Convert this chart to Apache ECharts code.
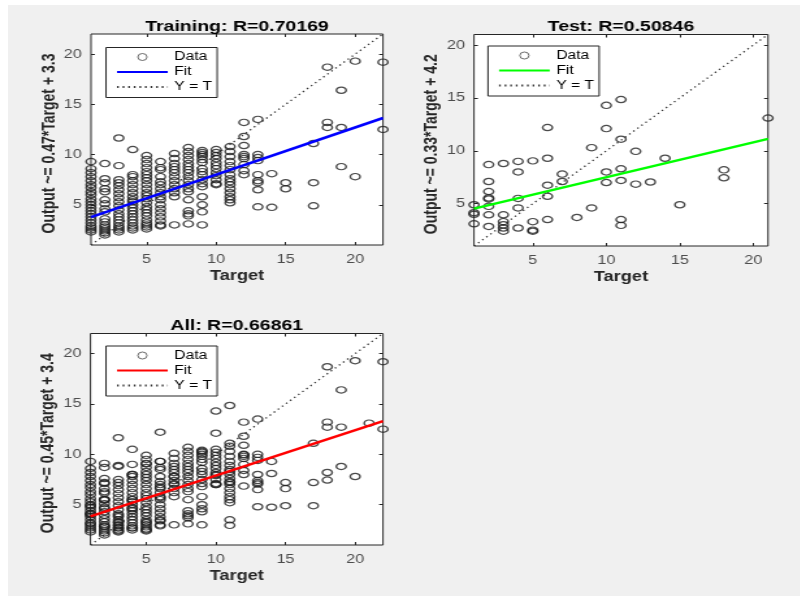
<!DOCTYPE html>
<html>
<head>
<meta charset="utf-8">
<script src="https://cdn.jsdelivr.net/npm/echarts@6/dist/echarts.min.js"></script>
<style>
    html,body{margin:0;padding:0;background:#fff;overflow:hidden}
    #fig{position:absolute;left:8px;top:5px;width:792px;height:591px;background:#f0f0f0}
    /* the reference figure is stretched sideways, so draw narrow and stretch */
    #main{position:absolute;left:0;top:0;width:616px;height:597px;transform:scaleX(1.3);transform-origin:0 0}
</style>
</head>
<body>
<div id="fig"></div>
<div id="main"></div>
<script>
// training set: outputs for each target value
const trainTargets = [1,2,3,4,5,6,7,8,9,10,11,12,13,14,15,17,18,19,20,22]
const trainOutputs = [
    [9.3,8.6,8.2,7.8,7.4,7.0,6.7,6.3,6.0,5.6,5.3,5.0,4.7,4.4,4.1,3.8,3.5,3.2,2.9,2.7,2.5,2.3],
    [9.1,7.6,7.2,6.6,6.3,5.5,5.1,4.6,4.3,3.6,3.3,3.0,2.8,2.6,2.4,2.2,2.0],
    [11.65,8.9,7.5,7.2,6.9,6.5,6.1,5.7,5.3,4.9,4.5,4.1,3.8,3.5,3.2,2.9,2.7,2.5,2.3],
    [10.5,8.0,7.8,7.4,7.0,6.6,6.2,5.8,5.5,5.3,5.0,4.7,4.4,4.1,3.8,3.5,3.2,2.9,2.7,2.5],
    [9.9,9.5,9.1,8.7,8.3,8.0,7.7,7.4,7.0,6.6,6.2,5.9,5.6,5.2,4.8,4.5,4.2,3.9,3.5,3.2,3.0,2.8,2.6],
    [9.3,8.7,8.5,7.8,7.3,7.0,6.6,6.2,5.8,5.5,5.0,4.6,4.2,3.8,3.4,3.0,2.9],
    [10.1,9.6,9.1,8.8,8.5,8.2,7.8,7.4,7.0,6.6,6.2,5.8,3.0],
    [10.7,10.3,9.9,9.5,9.1,8.8,8.5,8.2,7.8,7.4,7.0,6.6,6.3,5.5,4.4,4.1,3.9,3.1],
    [10.4,10.2,10.0,9.8,9.5,9.2,8.6,8.3,8.0,7.5,7.1,6.8,5.8,5.0,4.3,3.0],
    [10.5,10.2,9.9,9.6,9.2,8.9,8.6,8.2,7.9,7.5,7.1,7.0],
    [10.8,10.3,9.8,9.3,8.9,8.5,8.0,7.6,7.3,7.0,6.6,6.2,5.8,5.5,5.2],
    [13.2,11.8,10.9,10.0,9.8,9.6,9.0,8.4,8.0],
    [13.5,10.0,9.7,9.4,8.0,7.4,7.2,6.5,4.8],
    [8.1,4.75],
    [7.2,6.6],
    [11.1,7.2,4.9],
    [18.7,13.2,12.7],
    [16.4,12.7,8.8],
    [19.3,7.8],
    [19.2,12.5]
]
// test set
const testTargets = [1,2,3,4,5,6,7,8,9,10,11,12,13,14,15,18,21]
const testOutputs = [
    [4.9,4.15,4.0,3.1],
    [8.7,7.1,6.15,5.55,5.45,4.75,3.95,2.85],
    [8.8,3.95,3.3,3.0,2.7,2.4],
    [9.0,8.0,5.5,4.6,2.7],
    [9.05,3.3,2.5,2.4],
    [12.2,9.3,6.75,5.7,3.5],
    [7.8,7.1],
    [3.7],
    [10.3,4.6],
    [14.3,12.1,8.0,7.0],
    [14.85,11.1,8.3,7.2,3.5,2.95],
    [9.95,6.85],
    [7.05],
    [9.3],
    [4.9],
    [8.2,7.45],
    [13.1]
]
// fit: [slope, intercept], R value, axis limits
const trainFit = [0.47,3.3]
const testFit = [0.33,4.2]
const allFit = [0.45,3.4]
const rValues = ['0.70169','0.50846','0.66861']
const limits = [[1,22],[1,21],[1,22]]
const tickValues = [5,10,15,20]

const SX = 1.3
const FONT = "'Liberation Sans', Arial, Helvetica, sans-serif"

function toPoints(targets,outputs){
    let pts=[]
    targets.forEach((t,i)=>{
        outputs[i].forEach(o=>pts.push([t,o]))
    })
    return pts
}
const trainPoints = toPoints(trainTargets,trainOutputs)
const testPoints = toPoints(testTargets,testOutputs)
const allPoints = trainPoints.concat(testPoints)

// boxes in picture pixels: [left, top, right, bottom], legend corner
const panels = [
    {key:'train',title:'Training',points:trainPoints,fit:trainFit,color:'#0000ff',box:[91,34,383,245],legend:[106,47.5]},
    {key:'test',title:'Test',points:testPoints,fit:testFit,color:'#00ff00',box:[474,34.5,768,246],legend:[488,46]},
    {key:'all',title:'All',points:allPoints,fit:allFit,color:'#ff0000',box:[90.5,333.5,383,545],legend:[106,346]},
]

let grid=[],xAxis=[],yAxis=[],series=[],legend=[],title=[]
panels.forEach((p,i)=>{
    let [x0,y0,x1,y1] = p.box
    let [lo,hi] = limits[i]
    let [a,b] = p.fit
    grid.push({
        left:x0/SX, top:y0, width:(x1-x0)/SX, height:y1-y0,
        show:true, backgroundColor:'#fff', borderColor:'#262626', borderWidth:1,
        outerBoundsMode:'none'
    })
    title.push({
        text:p.title+': R='+rValues[i],
        left:(x0+x1)/2/SX, top:y0-15, textAlign:'center', padding:0,
        textStyle:{fontFamily:FONT,fontSize:15,fontWeight:'bold',color:'#000'}
    })
    let tick = {show:true,inside:true,length:3,customValues:tickValues,lineStyle:{color:'#262626'}}
    let label = {customValues:tickValues,color:'#4d4d4d',fontSize:12.5,fontFamily:FONT}
    xAxis.push({
        gridIndex:i,type:'value',min:lo,max:hi,position:'bottom',
        name:'Target',nameLocation:'middle',nameGap:24,
        nameTextStyle:{fontFamily:FONT,fontSize:14,fontWeight:'bold',color:'#262626'},
        axisLine:{show:false},axisTick:tick,
        axisLabel:Object.assign({margin:8},label),
        splitLine:{show:false}
    })
    xAxis.push({
        gridIndex:i,type:'value',min:lo,max:hi,position:'top',
        axisLine:{show:false},axisTick:tick,axisLabel:{show:false},splitLine:{show:false}
    })
    yAxis.push({
        gridIndex:i,type:'value',min:lo,max:hi,position:'left',
        name:'Output ~= '+a+'*Target + '+b,nameLocation:'middle',nameGap:25,
        nameTextStyle:{fontFamily:FONT,fontSize:14,fontWeight:'bold',color:'#262626',padding:[0,8,0,0]},
        axisLine:{show:false},axisTick:tick,
        axisLabel:Object.assign({margin:7},label),
        splitLine:{show:false}
    })
    yAxis.push({
        gridIndex:i,type:'value',min:lo,max:hi,position:'right',
        axisLine:{show:false},axisTick:tick,axisLabel:{show:false},splitLine:{show:false}
    })
    series.push({
        name:'Data#'+p.key,type:'scatter',xAxisIndex:2*i,yAxisIndex:2*i,
        data:p.points,symbol:'circle',symbolSize:[7.5,6.3],
        itemStyle:{color:'rgba(0,0,0,0)',borderColor:'#1e1e1e',borderWidth:1.3},
        z:2
    })
    series.push({
        name:'Fit#'+p.key,type:'line',xAxisIndex:2*i,yAxisIndex:2*i,
        data:[[lo,a*lo+b],[hi,a*hi+b]],symbol:'none',
        lineStyle:{color:p.color,width:2.5},itemStyle:{color:p.color},
        z:3
    })
    series.push({
        name:'Y = T#'+p.key,type:'line',xAxisIndex:2*i,yAxisIndex:2*i,
        data:[[lo,lo],[hi,hi]],symbol:'none',
        lineStyle:{color:'#333',width:1.3,type:[1.3,3]},itemStyle:{color:'#333'},
        z:2
    })
    // hide the dot that line icons get in the legend
    let noDot = {opacity:0}
    legend.push({
        left:p.legend[0]/SX, top:p.legend[1], orient:'vertical',
        data:[
            {name:'Data#'+p.key,itemStyle:{color:'rgba(0,0,0,0)',borderColor:'#333',borderWidth:0.9}},
            {name:'Fit#'+p.key,itemStyle:noDot},
            {name:'Y = T#'+p.key,itemStyle:noDot}
        ],
        formatter:name=>name.split('#')[0],
        itemWidth:39, itemHeight:7, itemGap:3,
        padding:[3.5,4,4.5,7.5],
        borderColor:'#262626', borderWidth:1, backgroundColor:'#fff',
        selectedMode:false,
        textStyle:{fontFamily:FONT,fontSize:12,color:'#000'}
    })
})

var myChart = echarts.init(document.getElementById('main'))
myChart.setOption({
    animation:false,
    backgroundColor:'transparent',
    title:title,
    grid:grid,
    xAxis:xAxis,
    yAxis:yAxis,
    legend:legend,
    series:series
})
</script>
</body>
</html>
